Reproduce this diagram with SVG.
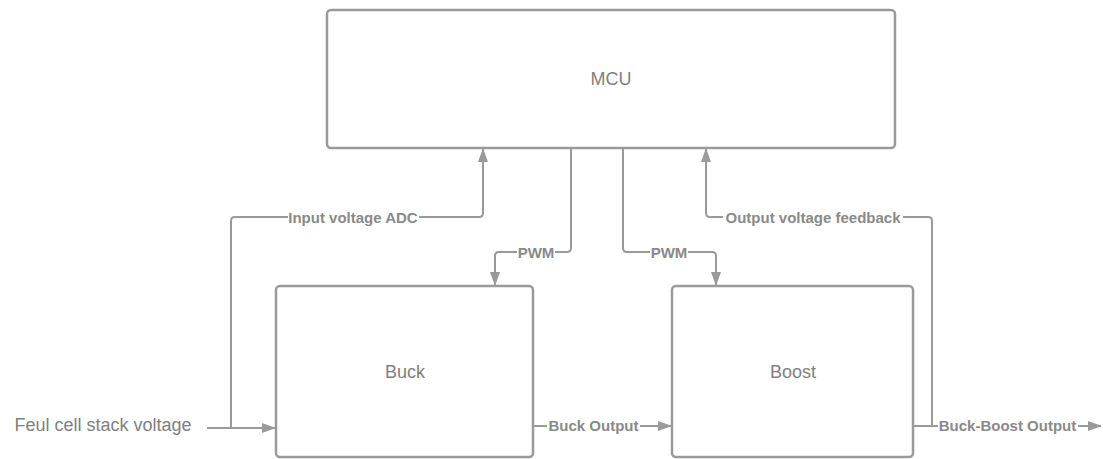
<svg xmlns="http://www.w3.org/2000/svg" width="1103" height="459" viewBox="0 0 1103 459">
<style>
.box{fill:#fff;stroke:#9a9a9a;stroke-width:2.5}
.nt{font-family:"Liberation Sans",Arial,sans-serif;font-size:18px;fill:#808080;text-anchor:middle}
.ln{fill:none;stroke:#9a9a9a;stroke-width:2}
.lb{font-family:"Liberation Sans",Arial,sans-serif;font-size:15px;font-weight:bold;fill:#8a8a8a;text-anchor:middle}
.bg{fill:#fff}
</style>
<defs>
<marker id="ah" viewBox="0 0 14 10" refX="13" refY="5" markerWidth="14" markerHeight="10" markerUnits="userSpaceOnUse" orient="auto">
<path d="M0,0 L14,5 L0,10 Z" fill="#9a9a9a"/>
</marker>
</defs>
<g id="mcu"><rect class="box" x="327" y="10" width="568" height="138" rx="4"/><text class="nt" x="611" y="85">MCU</text></g>
<g id="buck"><rect class="box" x="276" y="286" width="257" height="171" rx="4"/><text class="nt" x="405" y="378">Buck</text></g>
<g id="boost"><rect class="box" x="672" y="286" width="241" height="171" rx="4"/><text class="nt" x="793" y="378">Boost</text></g>
<g id="source"><text class="nt" x="103" y="431">Feul cell stack voltage</text></g>
<g id="connectors">
<path class="ln" d="M207,428 H275" marker-end="url(#ah)"/>
<path class="ln" d="M231,428 V221 Q231,217 235,217 H479 Q483,217 483,213 V149" marker-end="url(#ah)"/>
<path class="ln" d="M571,148 V248 Q571,252 567,252 H499 Q495,252 495,256 V285" marker-end="url(#ah)"/>
<path class="ln" d="M623,148 V248 Q623,252 627,252 H712 Q716,252 716,256 V285" marker-end="url(#ah)"/>
<path class="ln" d="M932,426 V221 Q932,217 928,217 H710 Q706,217 706,213 V149" marker-end="url(#ah)"/>
<path class="ln" d="M533,426 H671" marker-end="url(#ah)"/>
<path class="ln" d="M913,426 H1101" marker-end="url(#ah)"/>
<rect class="bg" x="288" y="209" width="131" height="16"/>
<text class="lb" x="353" y="222.5">Input voltage ADC</text>
<rect class="bg" x="517" y="244" width="38" height="16"/>
<text class="lb" x="536" y="257.5">PWM</text>
<rect class="bg" x="650" y="244" width="38" height="16"/>
<text class="lb" x="669" y="257.5">PWM</text>
<rect class="bg" x="723" y="209" width="180" height="16"/>
<text class="lb" x="813" y="222.5">Output voltage feedback</text>
<rect class="bg" x="547" y="418" width="93" height="16"/>
<text class="lb" x="593.5" y="431">Buck Output</text>
<rect class="bg" x="938" y="418" width="140" height="16"/>
<text class="lb" x="1007.5" y="431">Buck-Boost Output</text>
</g>
</svg>
